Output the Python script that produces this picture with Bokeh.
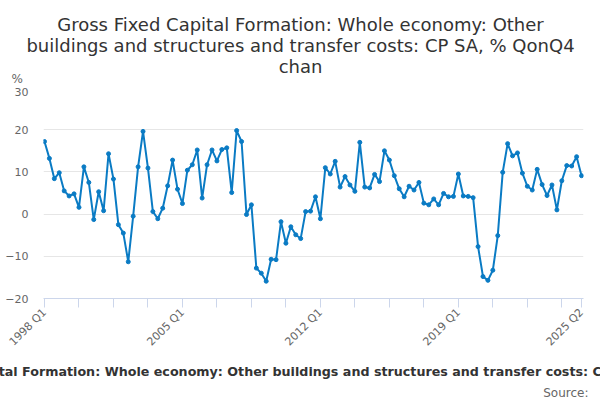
import math
from bokeh.plotting import figure
from bokeh.layouts import column
from bokeh.models import Range1d, FixedTicker, Title, ColumnDataSource
from bokeh.core.properties import value
from bokeh.embed import file_html
from bokeh.resources import INLINE

years = list(range(1998, 2026))
quarters = [f"{y} Q{q}" for y in years for q in range(1, 5)][:110]

values = [
    17.2, 13.2, 8.4, 9.8, 5.5, 4.3, 4.8, 1.6, 11.2, 7.5, -1.3, 5.3, 0.8, 14.3,
    8.3, -2.5, -4.5, -11.3, -0.5, 11.2, 19.6, 10.9, 0.6, -1.1, 1.4, 6.7, 12.8, 5.9,
    2.5, 10.4, 11.7, 15.2, 3.8, 11.7, 15.2, 12.6, 15.3, 15.7, 5.1, 19.8, 17.2, -0.1,
    2.2, -12.8, -14.0, -15.9, -10.7, -10.8, -1.8, -6.9, -3.0, -4.9, -5.8, 0.6, 0.7, 4.1,
    -1.1, 11.0, 9.5, 12.5, 6.4, 8.9, 6.9, 5.4, 17.0, 6.4, 6.2, 9.4, 7.7, 15.0,
    12.8, 9.1, 6.0, 4.1, 6.6, 5.7, 7.5, 2.6, 2.2, 3.6, 2.2, 4.9, 4.1, 4.2,
    9.5, 4.3, 4.2, 3.9, -7.7, -14.8, -15.7, -13.3, -5.1, 9.9, 16.7, 13.8, 14.5, 9.7,
    6.6, 5.7, 10.6, 7.0, 4.4, 6.9, 1.0, 7.9, 11.5, 11.4, 13.6, 9.1,
]

tick_labels = ["1998 Q1", "2005 Q1", "2012 Q1", "2019 Q1", "2025 Q2"]
y_ticks = [-20, -10, 0, 10, 20, 30]

title_lines = [
    "Gross Fixed Capital Formation: Whole economy: Other",
    "buildings and structures and transfer costs: CP SA, % QonQ4",
    "chan",
]
subtitle = ("Gross Fixed Capital Formation: Whole economy: Other buildings and "
            "structures and transfer costs: CP SA, % QonQ4 chan")
source_text = "Source:"
y_unit = "%"

FONT = "DejaVu Sans"
LINE = "#0a7bc4"
W = 600
TOP_H = 87

# ---- header strip (title + unit), pixel-like coordinates ----
ph = figure(width=W, height=TOP_H, output_backend="svg", toolbar_location=None,
            x_range=Range1d(0, W), y_range=Range1d(TOP_H, 0),
            x_axis_location=None, y_axis_location=None,
            min_border=0, min_border_left=0, min_border_right=0,
            min_border_top=0, min_border_bottom=0)
ph.frame_align = False
ph.outline_line_color = None
ph.grid.visible = False
ph.background_fill_color = "white"
ph.border_fill_color = "white"

ph.text(x=[300, 300, 300], y=[24, 45, 66], text=title_lines,
        text_align="center", text_baseline="alphabetic",
        text_font=value(FONT), text_font_size="18px", text_color="#333333")
ph.text(x=[11], y=[78], text=[y_unit], text_align="left",
        text_baseline="alphabetic", text_font=value(FONT),
        text_font_size="12px", text_color="#666666")

# ---- main chart ----
idx = list(range(len(values)))
src = ColumnDataSource(dict(x=idx, y=values))

p = figure(width=W, height=400 - TOP_H, output_backend="svg", toolbar_location=None,
           x_range=Range1d(-0.2, 109.4), y_range=Range1d(-20, 30),
           min_border_left=43, min_border_right=17, min_border_top=0,
           min_border_bottom=102)
p.frame_align = False
p.outline_line_color = None
p.background_fill_color = "white"
p.border_fill_color = "white"

p.line("x", "y", source=src, line_width=2, line_color=LINE)
p.scatter("x", "y", source=src, size=4, color=LINE)

tick_idx = [quarters.index(t) for t in tick_labels]
all_ticks = list(range(0, 109, 7)) + [quarters.index("2025 Q2")]
xa = p.xaxis[0]
xa.ticker = FixedTicker(ticks=all_ticks)
overrides = {t: "" for t in all_ticks}
overrides.update({i: l for i, l in zip(tick_idx, tick_labels)})
xa.major_label_overrides = overrides
xa.major_label_orientation = math.pi / 4
xa.major_label_text_font = FONT
xa.major_label_text_font_size = "11px"
xa.major_label_text_color = "#666666"
xa.axis_line_color = "#ccd6eb"
xa.major_tick_line_color = "#ccd6eb"
xa.major_tick_out = 9
xa.major_tick_in = 0
xa.minor_tick_line_color = None
xa.major_label_standoff = 3

ya = p.yaxis[0]
ya.ticker = FixedTicker(ticks=y_ticks)
ya.axis_line_color = None
ya.major_tick_line_color = None
ya.major_tick_out = 0
ya.major_tick_in = 0
ya.minor_tick_line_color = None
ya.major_label_text_font = FONT
ya.major_label_text_font_size = "11px"
ya.major_label_text_color = "#666666"
ya.major_label_standoff = 15

p.xgrid.grid_line_color = None
p.ygrid.grid_line_color = "#e6e6e6"
p.ygrid.ticker = FixedTicker(ticks=y_ticks)

p.add_layout(Title(text=subtitle, align="center", standoff=10,
                   text_font=FONT, text_font_size="12.7px", text_font_style="bold",
                   text_color="#333333"), "below")
p.add_layout(Title(text=source_text, align="right", offset=-5, standoff=0,
                   text_font=FONT, text_font_size="12px",
                   text_font_style="normal", text_color="#666666"), "below")

layout = column(ph, p, spacing=0)
open("out.html", "w").write(file_html(layout, INLINE))
